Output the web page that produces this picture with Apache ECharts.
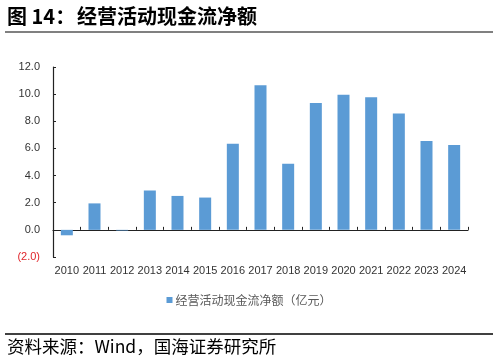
<!DOCTYPE html>
<html>
<head>
<meta charset="utf-8">
<script src="https://cdn.jsdelivr.net/npm/echarts@6/dist/echarts.min.js"></script>
<style>
html,body{margin:0;padding:0;background:#fff;}
#c{width:498px;height:362px;}
</style>
</head>
<body>
<div id="c"></div>
<script>
var titleLabel = '图 14：';
var titleText = '经营活动现金流净额';
var sourceText = '资料来源：Wind，国海证券研究所';
var seriesName = '经营活动现金流净额（亿元）';
var years = ['2010','2011','2012','2013','2014','2015','2016','2017','2018','2019','2020','2021','2022','2023','2024'];
var cashFlow = [-0.4, 1.95, -0.05, 2.9, 2.5, 2.38, 6.35, 10.65, 4.88, 9.35, 9.95, 9.78, 8.58, 6.55, 6.25];
var yMin = -2, yMax = 12, yStep = 2;

var chart = echarts.init(document.getElementById('c'), null, {renderer:'canvas'});
var cjk = '"Noto Sans CJK SC", "Liberation Sans", sans-serif';
var num = '"Liberation Sans", Arial, sans-serif';

chart.setOption({
  animation: false,
  backgroundColor: '#fff',
  grid: {left: 53, right: 30, top: 67, height: 190, containLabel: false},
  legend: {
    data: [seriesName],
    left: 'center',
    top: 289,
    itemWidth: 6,
    itemHeight: 6,
    icon: 'rect',
    itemGap: 4,
    textStyle: {fontFamily: cjk, fontSize: 12, color: '#595959', padding: [0,0,0,-2]}
  },
  xAxis: {
    type: 'category',
    data: years,
    boundaryGap: true,
    axisLine: {onZero: true, lineStyle: {color: '#222', width: 1.2}},
    axisTick: {show: true, inside: true, length: 3, lineStyle: {color: '#222'}},
    axisLabel: {margin: 8, fontFamily: num, fontSize: 11, color: '#333', interval: 0}
  },
  yAxis: {
    type: 'value',
    min: yMin, max: yMax, interval: yStep,
    splitLine: {show: false},
    axisLine: {show: true, lineStyle: {color: '#222', width: 1.2}},
    axisTick: {show: true, inside: true, length: 3, lineStyle: {color: '#222'}},
    axisLabel: {
      margin: 13, fontFamily: num, fontSize: 11,
      formatter: function (v) { return v < 0 ? '(' + Math.abs(v).toFixed(1) + ')' : v.toFixed(1); },
      color: function (v) { return Number(v) < 0 ? '#e0242a' : '#333'; }
    }
  },
  series: [{
    name: seriesName,
    type: 'bar',
    data: cashFlow,
    barWidth: 12,
    itemStyle: {color: '#5b9bd5'}
  }],
  graphic: [
    {type: 'text', left: 7, top: 6, style: {text: titleLabel, font: 'bold 20px ' + cjk, fill: '#000'}},
    {type: 'text', left: 77, top: 6, style: {text: titleText, font: 'bold 20px ' + cjk, fill: '#000'}},
    {type: 'line', shape: {x1: 5, y1: 32, x2: 493, y2: 32}, style: {stroke: '#808080', lineWidth: 2}},
    {type: 'line', shape: {x1: 5, y1: 334, x2: 493, y2: 334}, style: {stroke: '#000', lineWidth: 1.5}},
    {type: 'text', left: 7, top: 338, style: {text: sourceText, font: '17.5px ' + cjk, fill: '#000'}}
  ]
});
</script>
</body>
</html>
